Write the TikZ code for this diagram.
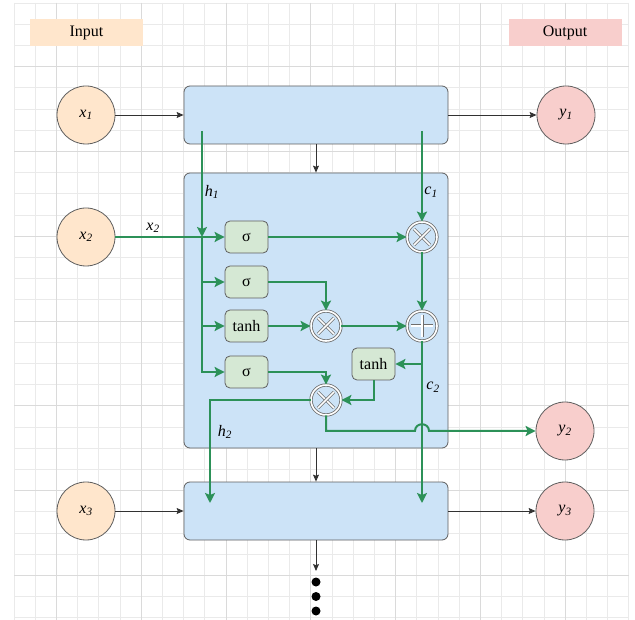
\documentclass[tikz,border=0pt]{standalone}
\usepackage{fontspec}
\setmainfont{Liberation Serif}
\usetikzlibrary{arrows.meta}

\definecolor{gridminor}{RGB}{234,234,234}
\definecolor{gridmajor}{RGB}{218,218,218}
\definecolor{inpfill}{RGB}{255,230,204}
\definecolor{outfill}{RGB}{248,206,204}
\definecolor{blockfill}{RGB}{204,227,247}
\definecolor{gatefill}{RGB}{213,232,212}
\definecolor{edgegray}{RGB}{95,95,95}
\definecolor{opgray}{RGB}{110,110,110}
\definecolor{lstmgreen}{RGB}{44,145,88}
\definecolor{darkline}{RGB}{50,50,50}

\begin{document}
\begin{tikzpicture}[x=1pt,y=-1pt,
  lbl/.style={font=\fontsize{16}{19}\selectfont, inner sep=0pt},
  tagbox/.style={lbl, minimum width=113pt, minimum height=27pt},
  circ/.style={circle, draw=edgegray, line width=0.8pt, minimum size=58pt, inner sep=0pt,
               font=\fontsize{16}{19}\selectfont},
  incirc/.style={circ, fill=inpfill},
  outcirc/.style={circ, fill=outfill},
  block/.style={draw=edgegray, fill=blockfill, rounded corners=6pt, line width=0.8pt,
                minimum width=264pt, inner sep=0pt},
  gate/.style={draw=edgegray, fill=gatefill, rounded corners=5pt, minimum width=43pt,
               minimum height=32pt, inner sep=0pt, line width=0.8pt,
               font=\fontsize{16}{19}\selectfont},
  opnode/.style={circle, minimum size=30pt, inner sep=0pt, draw=opgray, double=white,
                 double distance=1.6pt, line width=0.8pt, fill=blockfill},
  opline/.style={draw=opgray, double=white, double distance=1.6pt, line width=0.7pt},
  dotnode/.style={circle, fill=black, minimum size=9pt, inner sep=0pt},
  karrow/.style={draw=darkline, line width=0.9pt, -{Stealth[length=7pt,width=6pt,inset=1.2pt]}},
  gline/.style={draw=lstmgreen, line width=2pt},
  garrow/.style={gline, -{Stealth[length=10pt,width=10pt,inset=2pt]}}
]
\useasboundingbox (0,0) rectangle (635,620);
\fill[white] (0,0) rectangle (635,620);

% background grid
\foreach \k in {0,...,29} {
  \draw[gridminor, line width=0.8pt] ({14+21.2*\k},3) -- ({14+21.2*\k},620);
  \draw[gridminor, line width=0.8pt] (14,{3+21.2*\k}) -- (629,{3+21.2*\k});
}
\foreach \k in {2,6,...,26}
  \draw[gridmajor, line width=0.8pt] ({14+21.2*\k},3) -- ({14+21.2*\k},620);
\foreach \k in {3,7,...,27}
  \draw[gridmajor, line width=0.8pt] (14,{3+21.2*\k}) -- (629,{3+21.2*\k});

% legend tags
\node[tagbox, fill=inpfill] (intag) at (86.5,32.5) {Input};
\node[tagbox, fill=outfill] (outtag) at (565,32.5) {Output};

% inputs and outputs
\node[incirc] (x1) at (86,115) {\textit{x\textsubscript{1}}};
\node[incirc] (x2) at (86,237) {\textit{x\textsubscript{2}}};
\node[incirc] (x3) at (86,511) {\textit{x\textsubscript{3}}};
\node[outcirc] (y1) at (566,115) {\textit{y\textsubscript{1}}};
\node[outcirc] (y2) at (565,431) {\textit{y\textsubscript{2}}};
\node[outcirc] (y3) at (565,511) {\textit{y\textsubscript{3}}};

% recurrent blocks
\node[block, minimum height=58pt] (blkA) at (316,115) {};
\node[block, minimum height=275pt] (blkB) at (316,310.5) {};
\node[block, minimum height=58pt] (blkC) at (316,511) {};

% black flow between blocks
\draw[karrow] (x1) -- (blkA);
\draw[karrow] (blkA) -- (y1);
\draw[karrow] (blkA) -- (blkB);
\draw[karrow] (blkB) -- (blkC);
\draw[karrow] (x3) -- (blkC);
\draw[karrow] (blkC) -- (y3);
\coordinate (more) at (316,571);
\draw[karrow] (blkC) -- (more);
\node[dotnode] (d1) at (316,582) {};
\node[dotnode] (d2) at (316,596.5) {};
\node[dotnode] (d3) at (316,611) {};

% gates of the cell
\node[gate] (s1) at (246.5,237) {σ};
\node[gate] (s2) at (246.5,282) {σ};
\node[gate] (t1) at (246.5,326) {tanh};
\node[gate] (s3) at (246.5,372) {σ};
\node[gate] (t2) at (373.5,364) {tanh};

% pointwise operators
\node[opnode] (m1) at (422,237) {};
\node[opnode] (a1) at (422,326) {};
\node[opnode] (m2) at (326,326) {};
\node[opnode] (m3) at (326,400) {};
\foreach \n in {m1,m2,m3} {
  \draw[opline] ([shift={(-8,-8)}]\n.center) -- ([shift={(8,8)}]\n.center);
  \draw[opline] ([shift={(-8,8)}]\n.center) -- ([shift={(8,-8)}]\n.center);
}
\draw[opline] ([shift={(-11,0)}]a1.center) -- ([shift={(11,0)}]a1.center);
\draw[opline] ([shift={(0,-11)}]a1.center) -- ([shift={(0,11)}]a1.center);

% green state and data flow
\coordinate (hA) at (202,131);
\coordinate (cA) at (422,131);
\coordinate (jn) at (202,237);
\coordinate (cC) at (422,503);
\coordinate (hC) at (210,503);

\draw[garrow] (hA) -- (jn);
\draw[garrow] (x2) -- (s1);
\draw[garrow] (jn) |- (s3);
\draw[garrow] (jn |- s2) -- (s2);
\draw[garrow] (jn |- t1) -- (t1);

\draw[garrow] (cA) -- (m1);
\draw[garrow] (s1) -- (m1);
\draw[garrow] (m1) -- (a1);
\draw[garrow] (s2) -| (m2);
\draw[garrow] (t1) -- (m2);
\draw[garrow] (m2) -- (a1);
\draw[garrow] (a1) -- (cC);
\draw[garrow] (a1 |- t2) -- (t2);
\draw[garrow] (t2) |- (m3);
\draw[garrow] (s3) -| (m3);
\draw[garrow] (m3) -| (hC);
\draw[garrow] (m3.south) -- (m3 |- y2) -- ([xshift=-7pt]a1 |- y2)
  .. controls +(0,-9) and +(0,-9) .. ([xshift=7pt]a1 |- y2) -- (y2);

% labels on the flows
\node[lbl] (lx2) at (153,228) {\textit{x\textsubscript{2}}};
\node[lbl] (lh1) at (212,192) {\textit{h\textsubscript{1}}};
\node[lbl] (lc1) at (431,192) {\textit{c\textsubscript{1}}};
\node[lbl] (lc2) at (433,387) {\textit{c\textsubscript{2}}};
\node[lbl] (lh2) at (225,432) {\textit{h\textsubscript{2}}};
\end{tikzpicture}
\end{document}
